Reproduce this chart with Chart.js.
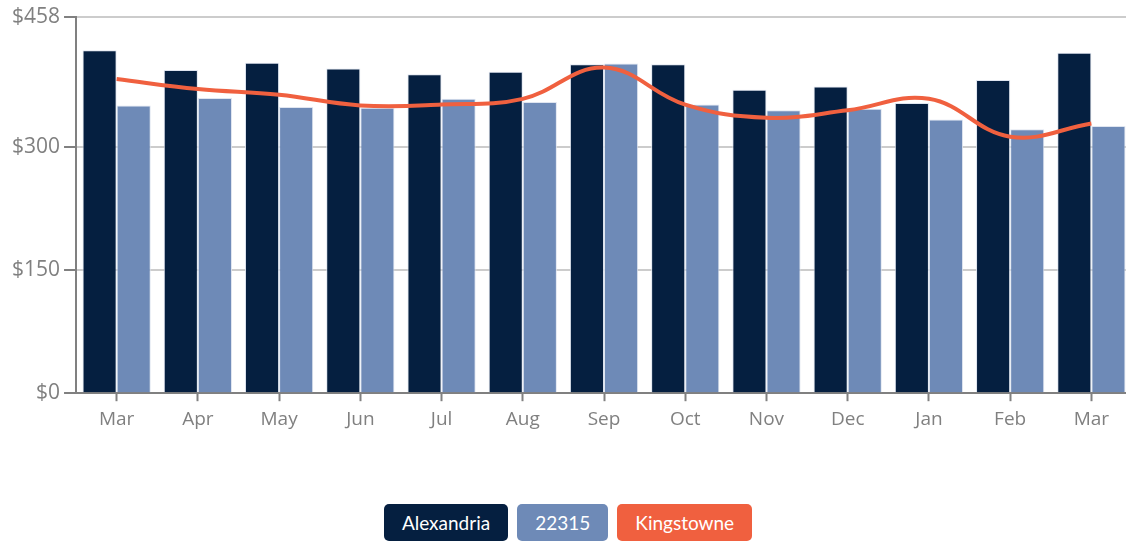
<!DOCTYPE html>
<html>
<head>
<meta charset="utf-8">
<script src="https://cdn.jsdelivr.net/npm/chart.js@4.4.1/dist/chart.umd.min.js"></script>
<style>
  html, body {
    margin: 0;
    padding: 0;
    background: #ffffff;
    overflow: hidden;
    width: 1126px;
    height: 544px;
  }
  .chart-box {
    position: absolute;
    left: 0;
    top: 0;
    width: 1132px;
    height: 438px;
  }
  .legend {
    position: absolute;
    top: 504px;
    left: 0;
    width: 1136px;
    display: flex;
    justify-content: center;
    gap: 9px;
    font-family: Lato, "Open Sans", sans-serif;
  }
  .legend span {
    display: inline-block;
    height: 37px;
    line-height: 37px;
    padding: 0 18px;
    border-radius: 5px;
    color: #ffffff;
    font-size: 19px;
  }
</style>
</head>
<body>
<div class="chart-box"><canvas id="rentChart"></canvas></div>
<div class="legend" id="legend"></div>

<script>
// Chart data
var months = ["Mar", "Apr", "May", "Jun", "Jul", "Aug", "Sep", "Oct", "Nov", "Dec", "Jan", "Feb", "Mar"];
var alexandria = [417, 393, 402, 395, 388, 391, 400, 400, 369, 373, 353, 381, 414];
var zip22315 = [350, 359, 348, 347, 358, 354, 401, 351, 344, 346, 333, 321, 325];
var kingstowne = [382, 370, 363, 350, 351, 358, 396, 351, 335, 344, 358, 312, 328];
var yTicks = [0, 150, 300, 458];

var seriesNames = ["Alexandria", "22315", "Kingstowne"];
var seriesColors = ["#051f40", "#6e8ab7", "#f0603f"];

document.addEventListener("DOMContentLoaded", function () {
  var ctx = document.getElementById("rentChart").getContext("2d");
  var xFont = { family: "'Open Sans', Lato, sans-serif", size: 19 };
  var yFont = { family: "'Open Sans', Lato, sans-serif", size: 21 };

  new Chart(ctx, {
    type: "bar",
    data: {
      labels: months,
      datasets: [
        {
          type: "line",
          label: seriesNames[2],
          data: kingstowne,
          borderColor: seriesColors[2],
          borderWidth: 4,
          pointRadius: 0,
          tension: 0.4,
          fill: false,
          order: 0,
        },
        {
          label: seriesNames[0],
          data: alexandria,
          backgroundColor: seriesColors[0],
          borderColor: "rgba(220,226,238,0.9)",
          borderWidth: 1,
          categoryPercentage: 0.84,
          barPercentage: 1,
          order: 1,
        },
        {
          label: seriesNames[1],
          data: zip22315,
          backgroundColor: seriesColors[1],
          borderColor: "rgba(220,226,238,0.9)",
          borderWidth: 1,
          categoryPercentage: 0.84,
          barPercentage: 1,
          order: 1,
        },
      ],
    },
    options: {
      responsive: true,
      maintainAspectRatio: false,
      animation: false,
      layout: { padding: { top: 4, left: 8, right: 0, bottom: 0 } },
      plugins: {
        legend: { display: false },
        tooltip: { enabled: false },
      },
      scales: {
        x: {
          offset: true,
          grid: {
            offset: false,
            drawOnChartArea: false,
            drawTicks: true,
            tickLength: 8,
            tickColor: "#808080",
            tickWidth: 2,
          },
          border: { color: "#808080", width: 2 },
          ticks: { color: "#808080", font: xFont, padding: 7 },
        },
        y: {
          min: 0,
          max: 458,
          afterBuildTicks: function (axis) {
            axis.ticks = yTicks.map(function (v) {
              return { value: v };
            });
          },
          grid: {
            color: "#cccccc",
            lineWidth: 2,
            tickLength: 12,
            tickColor: "#808080",
            tickWidth: 2,
          },
          border: { color: "#808080", width: 2 },
          ticks: {
            color: "#808080",
            font: yFont,
            padding: 4,
            callback: function (v) {
              return "$" + v;
            },
          },
        },
      },
    },
  });

  // Legend boxes under the chart
  var legend = document.getElementById("legend");
  seriesNames.forEach(function (name, i) {
    var item = document.createElement("span");
    item.textContent = name;
    item.style.background = seriesColors[i];
    legend.appendChild(item);
  });
});
</script>
</body>
</html>
